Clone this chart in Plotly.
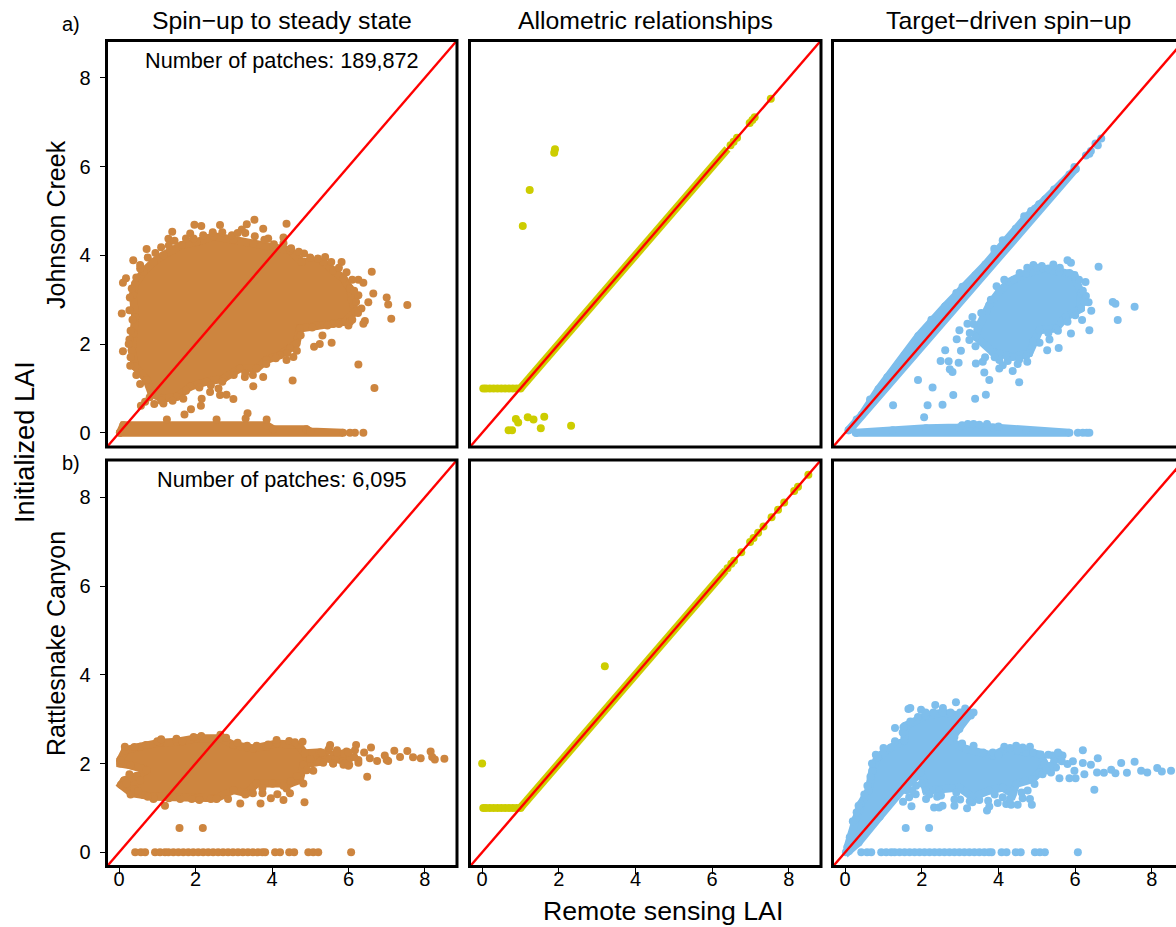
import plotly.graph_objects as go

W, H = 1176, 927
BROWN, OLIVE, BLUE, RED = "#CD853F", "#CDCD00", "#7EBEEC", "#FF0000"
FONT = "Liberation Sans, Arial, sans-serif"

COLUMN_TITLES = ["Spin\u2212up to steady state", "Allometric relationships", "Target\u2212driven spin\u2212up"]
ROW_TITLES = ["Johnson Creek", "Rattlesnake Canyon"]
PATCH_LABELS = ["Number of patches: 189,872", "Number of patches: 6,095"]
TICKS = [0, 2, 4, 6, 8]
ONE_TO_ONE = [-0.5, 9.5]

# ---- a) Johnson Creek, spin-up to steady state ----
A1_CORE_X = [.72,.42,.33,.37,.42,.36,.42,.64,.90,1.16,1.64,2.03,2.47,2.99,3.51,4.03,4.47,4.78,5.34,5.60,5.87,6.04,6.08,6.17,5.91,5.60,5.17,4.73,4.64,4.47,4.21,3.86,3.60,3.16,2.73,2.29,1.86,1.51,1.12,.85,.72]
A1_CORE_Y = [1.19,1.49,1.86,2.24,2.61,3.10,3.36,3.63,3.85,4.00,4.23,4.30,4.43,4.35,4.26,4.19,4.11,3.85,3.85,3.66,3.48,3.25,2.99,2.73,2.50,2.45,2.42,2.35,2.01,1.90,1.75,1.64,1.45,1.45,1.22,1.15,1.04,.81,.77,.89,1.19]
A1_BAND_X = [.02,.11,3.86,4.03,4.90,5.00,5.86,.02]
A1_BAND_Y = [0,.17,.17,.08,.08,.03,0,0]
A1_X = [1.97,2.15,2.64,3.34,3.54,3.77,3.21,4.38,1.39,1.29,.72,1.86,4.30,3.90,.37,6.61,6.26,6.39,.55,.18,.10,5.82,5.39,4.84,6.26,6.65,7.00,6.52,7.04,7.54,7.12,6.43,6.00,.07,.27,.27,.10,.29,5.32,5.56,5.25,5.10,6.26,4.54,6.68,3.51,3.77,3.29,4.56,4.38,2.99,2.81,2.60,2.64,2.38,2.16,2.14,1.88,1.71,1.68,1.16,.92,.68,.57,6.34,6.39,6.04,6.04,6.17,6.39,1.25,2.55,3.36,3.86,3.31]
A1_Y = [4.69,4.66,4.68,4.70,4.80,4.60,4.58,4.71,4.53,4.37,4.14,4.49,4.40,4.38,3.89,3.63,3.45,3.38,3.70,3.48,3.38,3.85,3.96,4.04,3.10,3.14,3.05,2.94,2.89,2.88,2.57,2.52,2.42,2.69,2.76,2.10,1.84,1.51,2.19,2.03,2.00,1.94,1.54,1.18,1.01,1.05,1.26,1.26,1.71,1.64,.76,.86,1.00,.85,.92,.77,.61,.53,.41,.77,.66,.65,.70,.61,2.80,2.46,2.50,0,0,0,.30,.30,.44,.30,.32]
A1_EDGE_X = [.55,.75,.95,1.1,1.3,1.45,1.75,1.95,2.2,2.45,2.7,2.95,3.1,3.3,3.55,3.8,4.05,4.3,4.5,4.7,5.0,5.2,5.55,5.75,5.95,6.1,6.15,6.2,6.25,6.1,5.75,5.45,5.05,4.75,4.65,4.4,4.1,3.85,3.5,3.3,3.0,2.7,2.4,2.1,1.75,1.4,1.1,.8,.55,.45,.3,.25,.3,.35,.28,.33,.45]
A1_EDGE_Y = [3.78,3.95,4.05,4.18,4.22,4.33,4.38,4.38,4.45,4.52,4.52,4.45,4.5,4.5,4.43,4.35,4.25,4.27,4.16,4.08,3.95,3.93,3.85,3.72,3.62,3.45,3.2,2.95,2.7,2.55,2.45,2.42,2.37,2.2,1.85,1.8,1.68,1.55,1.3,1.35,1.3,1.15,1.07,1.02,.95,.72,.72,.8,1.1,1.3,1.7,2.0,2.3,2.55,3.05,3.25,3.5]

# ---- a) Johnson Creek, allometric relationships ----
DIAG_A = [1.0, 6.4]
DIAG_B = [1.0, 6.35]
A2_X = [.03,.1,.2,.3,.4,.5,.6,.7,.8,.9,1.0,6.48,6.56,6.65,6.98,7.05,7.11,7.53,1.90,1.88,1.24,1.06,1.62,1.19,1.34,.88,.94,1.53,2.32,.69,.78]
A2_Y = [1,1,1,1,1,1,1,1,1,1,1.0,6.48,6.56,6.65,6.98,7.05,7.11,7.53,6.39,6.31,5.47,4.66,.36,.35,.30,.31,.23,.10,.16,.06,.06]

# ---- a) Johnson Creek, target-driven spin-up ----
A3_DIAG_X = [.09,.44,.87,1.31,1.91,2.61,3.13,3.66,4.18,4.70,5.22,5.66,6.02,6.00,.15,.09]
A3_DIAG_Y = [.06,.41,.98,1.46,2.18,2.85,3.30,3.79,4.32,4.84,5.26,5.63,5.95,5.94,.10,.06]
A3_CORE_X = [3.46,3.76,4.02,4.28,4.72,5.15,5.59,5.98,6.15,6.15,5.76,5.50,5.07,4.80,4.37,3.85,3.41,3.46]
A3_CORE_Y = [2.35,2.88,3.18,3.40,3.59,3.70,3.63,3.55,3.14,2.80,2.61,2.35,2.31,1.79,1.71,1.82,2.16,2.35]
A3_BAND_X = [.28,1.24,2.11,2.98,3.24,3.85,4.72,5.85,.28]
A3_BAND_Y = [0,.06,.10,.12,.14,.12,.06,0,0]
A3_X = [4.67,4.85,5.06,3.89,3.06,4.11,6.28,6.41,6.53,6.68,5.98,6.59,6.37,5.80,5.89,5.43,4.91,5.13,6.61,6.27,6.28,6.35,6.42,6.18,6.37,5.89,6.98,7.05,7.55,7.11,5.57,5.27,5.07,5.33,2.91,2.98,3.19,3.32,3.24,3.02,2.61,2.49,2.70,2.96,2.73,2.80,1.90,2.28,2.82,3.39,3.67,2.15,2.54,1.25,2.06,4.54,4.37,3.76,3.63,4.02,4.11,4.24,3.41,3.59,4.54,4.72,4.02,6.07,6.20,6.30,6.37,3.05,3.2,3.35,3.5,3.7,4.0]
A3_Y = [4.88,5.00,5.15,4.15,3.29,4.34,6.25,6.35,6.52,6.63,5.99,6.48,6.29,3.89,3.83,3.79,3.78,3.76,3.74,3.40,3.08,2.94,2.75,2.54,2.31,2.24,2.95,2.91,2.84,2.54,1.91,1.86,2.03,2.10,2.11,2.31,2.46,2.61,2.09,1.85,1.86,1.62,1.61,1.58,1.43,1.37,1.19,1.02,.85,.77,.86,.62,.63,.62,.35,1.14,1.39,1.19,1.36,1.45,1.52,1.62,1.56,1.60,1.65,1.73,1.64,0,0,0,0,.17,.2,.2,.18,.2,.14]
A3_EDGE_X = [3.35,3.55,3.8,3.95,4.15,4.4,4.55,4.75,5.0,5.3,5.6,5.85,6.1,6.2,6.25,6.0,5.8,5.55,5.3,4.9,4.75,4.5,4.2,3.9,3.65,3.4,3.25,.3,.65,1.1,1.55,2.25,2.9,3.4,3.9,4.45,4.95,5.45,5.85]
A3_EDGE_Y = [2.45,2.7,3.0,3.3,3.45,3.45,3.6,3.72,3.72,3.7,3.72,3.6,3.45,3.2,2.95,2.65,2.5,2.3,2.25,2.05,1.6,1.55,1.75,1.7,1.7,1.95,2.25,.3,.75,1.25,1.75,2.55,3.15,3.55,4.08,4.6,5.05,5.48,5.82]

# ---- b) Rattlesnake Canyon, spin-up to steady state ----
B1_CORE_X = [.03,.16,.55,1.07,1.51,2.03,2.64,2.99,3.51,3.86,4.12,4.69,4.86,5.25,5.40,5.25,4.82,4.73,4.47,4.03,3.60,3.34,2.99,2.55,2.03,1.42,.90,.64,.33,.05,.13,.46,.72,.30,.03,.03]
B1_CORE_Y = [2.08,2.30,2.38,2.47,2.49,2.57,2.57,2.42,2.34,2.38,2.45,2.42,2.23,2.25,2.15,2.04,1.97,1.63,1.55,1.55,1.55,1.33,1.40,1.22,1.22,1.25,1.25,1.29,1.33,1.52,1.62,1.72,1.85,1.96,2.00,2.08]
B_ZERO_X = [.42,.57,.68,.94,1.07,1.20,1.29,1.42,1.55,1.68,1.81,1.94,2.07,2.20,2.33,2.46,2.59,2.72,2.85,2.98,3.11,3.24,3.37,3.50,3.63,3.75,3.82,4.08,4.21,4.45,4.58,4.95,5.08,5.21,6.07]
B1_X = [.27,1.20,1.58,2.19,3.17,3.70,3.97,3.75,4.14,4.30,4.47,4.85,4.38,4.82,5.08,4.91,4.12,4.45,4.60,4.80,5.52,6.20,6.17,6.41,6.59,6.56,6.75,6.26,6.26,6.95,7.00,7.04,7.20,7.35,7.54,7.69,7.89,8.15,8.19,8.26,8.51,6.49,5.87,6.02,5.60,5.34,5.95,5.78,5.95,5.47,5.6,5.75,5.87,6.04,5.5,5.7,6.0,5.85,5.65]
B1_Y = [1.76,1.05,.55,.55,1.10,1.10,1.22,1.33,1.31,1.18,1.33,1.13,1.44,1.55,1.84,1.85,2.53,2.51,2.48,2.49,2.42,2.42,2.30,2.25,2.36,2.12,2.06,2.08,2.02,2.18,2.08,2.06,2.29,2.15,2.28,2.14,2.12,2.27,2.15,2.09,2.11,1.70,1.97,1.97,2.00,2.02,2.12,2.08,2.27,2.30,2.2,2.15,2.23,2.12,2.1,2.3,2.25,2.05,2.1]
B1_EDGE_X = [.15,.4,.7,1.0,1.1,1.5,1.65,1.95,2.15,2.65,2.8,3.1,3.35,3.6,3.9,.9,1.3,1.6,1.9,2.1,2.4,2.55,2.85,3.3,3.5,3.75,4.0,4.3,4.5,4.65,.1,.3,.4,.2,.55,.5,.75,5.0,5.3,5.5,5.7,5.9,6.0,6.15,5.6]
B1_EDGE_Y = [2.38,2.37,2.42,2.5,2.55,2.56,2.5,2.6,2.62,2.65,2.58,2.47,2.4,2.4,2.43,1.2,1.22,1.2,1.2,1.18,1.2,1.2,1.2,1.3,1.33,1.45,1.55,1.5,1.6,1.72,1.5,1.3,1.42,1.55,1.62,1.38,1.25,2.1,2.25,2.35,2.25,2.0,1.95,2.15,2.0]

# ---- b) Rattlesnake Canyon, allometric relationships ----
B2_X = [.03,.1,.2,.3,.4,.5,.6,.7,.8,.9,1.0,6.4,6.5,6.57,6.76,6.99,7.08,7.2,7.34,7.55,7.72,7.88,8.14,8.24,8.51,3.2,0]
B2_Y = [1,1,1,1,1,1,1,1,1,1,1.0,6.4,6.5,6.57,6.76,6.99,7.08,7.2,7.34,7.55,7.72,7.88,8.14,8.24,8.51,4.19,2.0]

# ---- b) Rattlesnake Canyon, target-driven spin-up ----
B3_CORE_X = [.06,.12,.28,.41,.61,.71,.84,1.19,1.54,1.57,2.11,2.54,2.98,3.25,2.98,2.72,3.15,3.85,4.19,4.72,5.10,5.20,5.07,4.89,4.46,4.37,4.11,3.76,3.32,2.98,2.45,2.11,1.98,1.50,.90,.35,.10,.06]
B3_CORE_Y = [.11,.34,.75,1.09,1.39,1.84,2.14,2.36,2.51,2.85,3.08,3.15,3.08,3.11,2.78,2.51,2.33,2.18,2.33,2.25,2.20,2.00,1.80,1.65,1.54,1.31,1.46,1.39,1.24,1.46,1.39,1.39,1.80,1.42,.80,.22,.03,.11]
B3_X = [.02,1.58,2.19,1.65,1.70,1.98,2.35,2.89,3.13,3.28,1.30,4.15,4.46,4.63,4.82,6.20,6.59,7.20,7.55,7.72,7.88,8.14,8.26,8.50,6.94,7.05,7.35,6.75,6.57,6.41,6.24,6.20,6.01,5.85,5.59,5.94,5.80,5.67,6.50,5.98,5.37,5.15,1.51,1.73,1.67,1.84,2.11,2.32,2.45,2.54,2.50,2.85,2.85,3.00,3.18,3.32,3.50,3.73,3.76,3.70,3.98,4.11,4.20,4.50,4.33,4.63,4.82,4.87,4.76,4.94,5.41,5.59,5.5,5.3,5.45,5.35,5.6,5.25,5.55,5.65]
B3_Y = [0,.55,.55,3.23,3.25,3.21,3.32,3.38,3.24,3.08,2.80,2.38,2.40,2.36,2.38,2.30,2.12,2.01,2.04,1.84,1.80,1.90,1.82,1.84,1.86,1.78,1.79,1.79,1.80,1.97,1.76,2.01,1.67,1.67,1.67,2.05,1.99,2.18,1.41,1.84,1.80,1.76,1.14,1.04,1.24,1.31,1.20,1.01,1.01,1.05,1.28,1.19,1.05,1.19,.99,1.13,1.18,1.16,1.03,.94,1.11,1.24,1.09,1.07,1.07,1.22,1.20,1.07,1.39,1.54,2.18,2.10,1.91,2.2,2.05,1.95,2.2,1.85,2.25,2.05]
B3_EDGE_X = [.2,.35,.3,.5,.58,.66,.7,.8,1.0,1.3,1.5,1.52,1.7,1.9,2.1,2.3,2.55,2.75,3.0,3.2,3.35,3.0,2.85,3.05,3.35,3.6,3.85,4.0,4.3,4.5,4.9,4.6,4.3,3.9,3.5,3.25,2.9,2.4,2.2,1.85,2.0,1.75,1.6]
B3_EDGE_Y = [.7,1.05,.9,1.3,1.5,1.7,2.0,2.2,2.35,2.5,2.7,2.82,2.95,3.05,3.15,3.15,3.25,3.15,3.15,3.18,3.15,2.95,2.6,2.45,2.4,2.25,2.25,2.2,2.35,2.3,2.25,1.35,1.2,1.3,1.3,1.15,1.35,1.25,1.3,1.5,1.55,1.4,1.4]

COLS = [(106.5, 457.0), (469.5, 821.0), (832.5, 1176.0)]
ROWS = [(40.5, 447.0), (460.0, 866.5)]
MARKER = 8

fig = go.Figure()


def axes(r, c):
    n = r * 3 + c + 1
    return ("x" if n == 1 else f"x{n}"), ("y" if n == 1 else f"y{n}")


def cloud(r, c, xs, ys, color):
    xa, ya = axes(r, c)
    fig.add_trace(go.Scatter(x=xs, y=ys, xaxis=xa, yaxis=ya, mode="lines+markers", fill="toself",
                             fillcolor=color, line=dict(color=color, width=MARKER),
                             marker=dict(color=color, size=MARKER, line=dict(width=0)), hoverinfo="skip"))


def stripe(r, c, vals, color):
    xa, ya = axes(r, c)
    fig.add_trace(go.Scatter(x=vals, y=vals, xaxis=xa, yaxis=ya, mode="lines",
                             line=dict(color=color, width=MARKER), hoverinfo="skip"))


def points(r, c, xs, ys, color):
    xa, ya = axes(r, c)
    fig.add_trace(go.Scatter(x=xs, y=ys, xaxis=xa, yaxis=ya, mode="markers",
                             marker=dict(color=color, size=MARKER, line=dict(width=0))))


def one_to_one(r, c):
    xa, ya = axes(r, c)
    fig.add_trace(go.Scatter(x=ONE_TO_ONE, y=ONE_TO_ONE, xaxis=xa, yaxis=ya, mode="lines",
                             line=dict(color=RED, width=2.4), hoverinfo="skip"))


cloud(0, 0, A1_CORE_X, A1_CORE_Y, BROWN)
cloud(0, 0, A1_BAND_X, A1_BAND_Y, BROWN)
points(0, 0, A1_X + A1_EDGE_X, A1_Y + A1_EDGE_Y, BROWN)
one_to_one(0, 0)

stripe(0, 1, DIAG_A, OLIVE)
points(0, 1, A2_X, A2_Y, OLIVE)
one_to_one(0, 1)

cloud(0, 2, A3_DIAG_X, A3_DIAG_Y, BLUE)
cloud(0, 2, A3_CORE_X, A3_CORE_Y, BLUE)
cloud(0, 2, A3_BAND_X, A3_BAND_Y, BLUE)
points(0, 2, A3_X + A3_EDGE_X, A3_Y + A3_EDGE_Y, BLUE)
one_to_one(0, 2)

cloud(1, 0, B1_CORE_X, B1_CORE_Y, BROWN)
points(1, 0, B1_X + B1_EDGE_X + B_ZERO_X, B1_Y + B1_EDGE_Y + [0] * len(B_ZERO_X), BROWN)
one_to_one(1, 0)

stripe(1, 1, DIAG_B, OLIVE)
points(1, 1, B2_X, B2_Y, OLIVE)
one_to_one(1, 1)

cloud(1, 2, B3_CORE_X, B3_CORE_Y, BLUE)
points(1, 2, B3_X + B3_EDGE_X + B_ZERO_X, B3_Y + B3_EDGE_Y + [0] * len(B_ZERO_X), BLUE)
one_to_one(1, 2)

layout = dict(width=W, height=H, margin=dict(l=0, r=0, t=0, b=0), autosize=False,
              showlegend=False, plot_bgcolor="white", paper_bgcolor="white",
              font=dict(family=FONT, color="#000000"))
shapes = []
for r, (top, bottom) in enumerate(ROWS):
    for c, (left, right) in enumerate(COLS):
        n = r * 3 + c + 1
        suffix = "" if n == 1 else str(n)
        x_max = 8.84 if c < 2 else 8.63
        layout[f"xaxis{suffix}"] = dict(
            domain=[left / W, right / W], range=[-0.33, x_max], tickvals=TICKS,
            showticklabels=r == 1, ticks="outside" if r == 1 else "", ticklen=6, tickwidth=1.2,
            tickcolor="black", tickfont=dict(size=20), ticklabelstandoff=-12, showgrid=False, zeroline=False,
            showline=False, anchor=f"y{suffix}")
        layout[f"yaxis{suffix}"] = dict(
            domain=[1 - bottom / H, 1 - top / H], range=[-0.32, 8.84], tickvals=TICKS,
            showticklabels=c == 0, ticks="outside" if c == 0 else "", ticklen=6, tickwidth=1.2,
            tickcolor="black", tickfont=dict(size=20), ticklabelstandoff=5, showgrid=False, zeroline=False,
            showline=False, anchor=f"x{suffix}")
        shapes.append(dict(type="rect", xref="paper", yref="paper", x0=left / W,
                           x1=(right if c < 2 else W + 12) / W, y0=1 - bottom / H, y1=1 - top / H,
                           line=dict(color="black", width=3), fillcolor="rgba(0,0,0,0)", layer="above"))
layout["shapes"] = shapes


def label(px, py, text, size, angle=0):
    return dict(xref="paper", yref="paper", x=px / W, y=1 - py / H, text=text, showarrow=False,
                xanchor="center", yanchor="middle", textangle=angle,
                font=dict(size=size, family=FONT, color="#000000"))


layout["annotations"] = [
    label(281.5, 20, COLUMN_TITLES[0], 24.8),
    label(645, 20, COLUMN_TITLES[1], 24.8),
    label(1008, 20, COLUMN_TITLES[2], 24.8),
    label(281.5, 60, PATCH_LABELS[0], 21.7),
    label(282, 479, PATCH_LABELS[1], 21.7),
    label(71, 24, "a)", 20),
    label(71, 463, "b)", 20),
    label(56, 225, ROW_TITLES[0], 25, -90),
    label(56, 644, ROW_TITLES[1], 25, -90),
    label(24, 442, "Initialized LAI", 27.2, -90),
    label(663, 911, "Remote sensing LAI", 26.7),
]
fig.update_layout(**layout)
fig.write_html("out.html", config=dict(displayModeBar=False),
               post_script="document.body.style.margin='0';document.body.style.overflow='hidden';")
